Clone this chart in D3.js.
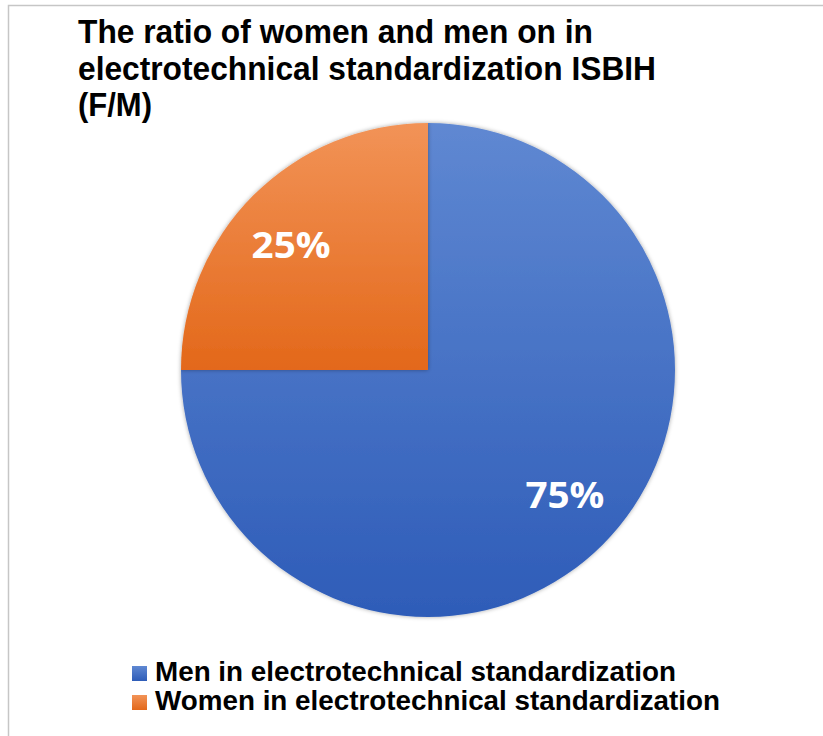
<!DOCTYPE html>
<html><head><meta charset="utf-8">
<script src="https://cdn.jsdelivr.net/npm/d3@7/dist/d3.min.js"></script>
<style>body{margin:0;background:#fff}svg{display:block}</style>
</head><body>
<svg id="chart" width="823" height="736"></svg>
<script>
const titleLines = ["The ratio of women and men on in", "electrotechnical standardization ISBIH", "(F/M)"];
const categories = ["Men in electrotechnical standardization", "Women in electrotechnical standardization"];
const values = [75, 25];
const labels = ["75%", "25%"];
const colorsTop = ["#5f88d2", "#f29357"];
const colorsBottom = ["#2e5cb8", "#e3681a"];

const svg = d3.select("#chart");
const W = 823, H = 736;
svg.append("rect").attr("x", 0).attr("y", 0).attr("width", W).attr("height", H).attr("fill", "#fff");
svg.append("rect").attr("x", 8.5).attr("y", 5.5).attr("width", W + 20).attr("height", H + 20)
  .attr("fill", "none").attr("stroke", "#c6c6c6").attr("stroke-width", 1.5);

const defs = svg.append("defs");
categories.forEach((c, i) => {
  const g = defs.append("linearGradient").attr("id", "grad" + i).attr("x1", 0).attr("y1", 0).attr("x2", 0).attr("y2", 1);
  g.append("stop").attr("offset", "0%").attr("stop-color", colorsTop[i]);
  g.append("stop").attr("offset", "100%").attr("stop-color", colorsBottom[i]);
});
const f = defs.append("filter").attr("id", "shadow").attr("x", "-10%").attr("y", "-10%").attr("width", "120%").attr("height", "120%");
f.append("feDropShadow").attr("dx", 0).attr("dy", 0).attr("stdDeviation", 2).attr("flood-color", "#000").attr("flood-opacity", 0.35);

// title (text is slightly condensed in the reference)
const titleWidths = [515, 578, 74];
const title = svg.append("text").attr("font-family", "Liberation Sans, Arial, sans-serif")
  .attr("font-weight", "bold").attr("font-size", 32.5).attr("fill", "#000");
titleLines.forEach((t, i) => {
  title.append("tspan").attr("x", 78).attr("y", 43 + i * 36.5)
    .attr("textLength", titleWidths[i]).attr("lengthAdjust", "spacingAndGlyphs").text(t);
});

// pie
const cx = 428, cy = 370, r = 247;
const pie = d3.pie().sort(null).value(d => d);
const arcs = pie(values);
const arc = d3.arc().innerRadius(0).outerRadius(r);
const labelArc = d3.arc().innerRadius(r * 0.75).outerRadius(r * 0.75);
const g = svg.append("g").attr("transform", `translate(${cx},${cy})`);
g.selectAll("path.slice").data(arcs).join("path").attr("class", "slice")
  .attr("d", arc).attr("fill", (d, i) => `url(#grad${i})`).attr("filter", "url(#shadow)");
g.selectAll("text.lbl").data(arcs).join("text").attr("class", "lbl")
  .attr("transform", d => { const c = labelArc.centroid(d); return `translate(${c[0] * 1.045},${c[1] * 0.955})`; })
  .attr("text-anchor", "middle").attr("dy", "0.36em")
  .attr("font-family", "Open Sans, sans-serif").attr("font-weight", "bold")
  .attr("font-size", 36).attr("fill", "#fff")
  .attr("textLength", 79).attr("lengthAdjust", "spacingAndGlyphs")
  .text((d, i) => labels[i]);

// legend
const legendWidths = [521, 565];
const lg = svg.append("g").attr("transform", "translate(132,666)");
categories.forEach((c, i) => {
  const row = lg.append("g").attr("transform", `translate(0,${i * 29})`);
  row.append("rect").attr("width", 15).attr("height", 15).attr("fill", `url(#grad${i})`);
  row.append("text").attr("x", 23).attr("y", 15)
    .attr("font-family", "Liberation Sans, Arial, sans-serif").attr("font-weight", "bold")
    .attr("font-size", 28).attr("fill", "#000")
    .attr("textLength", legendWidths[i]).attr("lengthAdjust", "spacingAndGlyphs").text(c);
});
</script>
</body></html>
